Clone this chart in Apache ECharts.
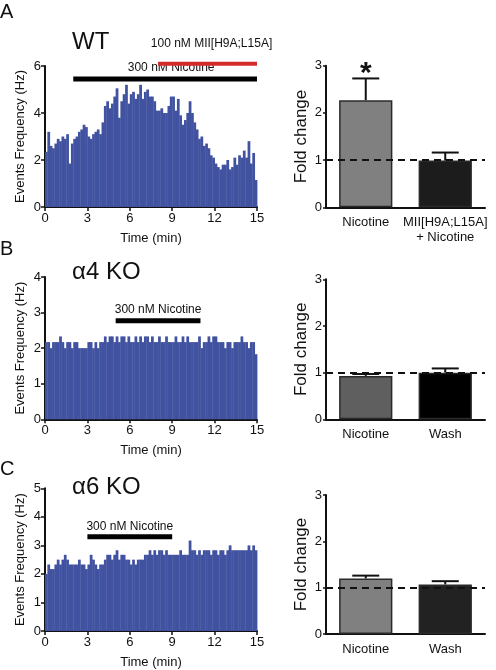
<!DOCTYPE html>
<html>
<head>
<meta charset="utf-8">
<script src="https://cdn.jsdelivr.net/npm/echarts@6/dist/echarts.min.js"></script>
<style>
html,body{margin:0;padding:0;background:#fff;}
#chart{width:496px;height:670px;}
</style>
</head>
<body>
<div id="chart"></div>
<script>
// ---------------- DATA ----------------
const binWidthMin = 1 / 6; // 10 s bins
const timeTicks = [0, 3, 6, 9, 12, 15];

const wtRate = [
  2.35, 3.2, 2.6, 2.5, 2.7, 2.9, 2.8, 3.0, 2.9, 3.1,
  1.85, 2.7, 2.9, 3.0, 3.2, 3.3, 3.5, 3.4, 3.0, 2.9,
  3.1, 3.2, 3.3, 3.1, 3.6, 4.3, 4.5, 4.2, 4.4, 4.7,
  5.05, 3.8, 4.5, 4.8, 5.2, 4.4, 4.8, 4.9, 4.6, 4.8,
  5.2, 4.6, 4.9, 5.0, 4.7, 4.7, 4.5, 4.1, 4.1, 4.2,
  4.0, 4.0, 4.3, 4.7, 4.7, 4.1, 4.6, 3.9, 3.5, 3.7,
  4.0, 4.5, 4.0, 3.6, 3.3, 2.9, 3.0, 2.6, 2.7, 2.5,
  2.2, 2.1, 1.85, 1.7, 1.6, 1.8, 1.8, 2.0, 1.6, 1.7,
  2.1, 1.8, 2.2, 2.1, 2.4, 2.1, 2.8, 1.85, 2.3, 1.15
];
const a4Rate = [
  2.17, 2.17, 2.0, 2.17, 2.17, 2.17, 2.33, 2.17, 2.0, 2.17,
  2.17, 2.0, 2.17, 2.17, 2.0, 2.0, 2.0, 2.0, 2.17, 2.17,
  2.0, 2.17, 2.0, 2.17, 2.17, 2.33, 2.17, 2.33, 2.33, 2.17,
  2.33, 2.17, 2.33, 2.33, 2.17, 2.33, 2.17, 2.17, 2.33, 2.17,
  2.33, 2.17, 2.33, 2.33, 2.17, 2.33, 2.17, 2.17, 2.33, 2.17,
  2.17, 2.33, 2.17, 2.17, 2.17, 2.33, 2.17, 2.17, 2.33, 2.17,
  2.33, 2.17, 2.17, 2.17, 2.17, 2.33, 2.0, 2.17, 2.17, 2.33,
  2.17, 2.33, 2.33, 2.17, 2.17, 2.17, 2.0, 2.17, 2.17, 2.0,
  2.17, 2.17, 2.17, 2.33, 2.17, 2.17, 2.0, 2.17, 2.17, 1.83
];
const a6Rate = [
  2.0, 2.33, 2.17, 2.17, 2.33, 2.5, 2.33, 2.5, 2.67, 2.5,
  2.33, 2.33, 2.33, 2.33, 2.5, 2.33, 2.33, 2.17, 2.33, 2.67,
  2.5, 2.33, 2.17, 2.33, 2.33, 2.5, 2.67, 2.67, 2.5, 2.67,
  2.83, 2.5, 2.67, 2.67, 2.5, 2.5, 2.33, 2.5, 2.33, 2.5,
  2.5, 2.5, 2.67, 2.67, 2.83, 2.67, 2.83, 2.67, 2.83, 2.83,
  2.67, 2.83, 2.67, 2.67, 2.67, 2.67, 2.67, 2.83, 2.67, 2.67,
  2.67, 3.17, 2.83, 2.83, 2.67, 2.83, 2.67, 2.83, 2.83, 2.83,
  2.67, 2.83, 2.83, 2.67, 2.83, 2.83, 2.67, 2.83, 3.0, 2.83,
  2.83, 2.83, 2.83, 2.83, 2.83, 2.83, 3.0, 2.83, 3.0, 2.83
];

// drug application bars: [label, startMin, endMin, level(Hz)]
const wtDrugs = [["300 nM Nicotine", 2, 15, 5.45], ["100 nM MII[H9A;L15A]", 8, 15, 6.1]];
const a4Drugs = [["300 nM Nicotine", 5, 11, 2.77]];
const a6Drugs = [["300 nM Nicotine", 3, 9, 3.3]];

// fold-change bar charts
const wtCats = ["Nicotine", "MII[H9A;L15A]\n+ Nicotine"];
const wtFold = [2.27, 0.99];
const wtSem = [0.46, 0.17];
const wtSig = ["*", ""];
const a4Cats = ["Nicotine", "Wash"];
const a4Fold = [0.93, 1.0];
const a4Sem = [0.04, 0.09];
const a6Cats = ["Nicotine", "Wash"];
const a6Fold = [1.2, 1.07];
const a6Sem = [0.06, 0.07];

// ---------------- STYLE / LAYOUT ----------------
const FONT = "Liberation Sans, Arial, sans-serif";
const HIST_COLOR = "#4152a0";
const chart = echarts.init(document.getElementById('chart'), null, {renderer: 'canvas'});

const grids = [
  {left: 45, top: 66, width: 212, height: 141},     // A hist
  {left: 326, top: 65.7, width: 159, height: 141.6}, // A bar
  {left: 45, top: 277, width: 212, height: 142.3},  // B hist
  {left: 326, top: 279.3, width: 159, height: 140}, // B bar
  {left: 45, top: 488.3, width: 212, height: 143},  // C hist
  {left: 326, top: 495, width: 159, height: 139}    // C bar
];

const axisLine = {show: true, lineStyle: {color: '#111', width: 2}};
const axisLabel = {color: '#111', fontSize: 13, fontFamily: FONT, margin: 4};

function histX(gi) {
  return {type: 'value', gridIndex: gi, min: 0, max: 15, interval: 3,
    axisLine: axisLine, axisTick: {show: true, length: 4, lineStyle: {color: '#111', width: 1.5}},
    axisLabel: Object.assign({}, axisLabel, {margin: 5}), splitLine: {show: false},
    name: 'Time (min)', nameLocation: 'middle', nameGap: 25,
    nameTextStyle: {color: '#111', fontSize: 13, fontFamily: FONT}};
}
function histY(gi, max, interval) {
  return {type: 'value', gridIndex: gi, min: 0, max: max, interval: interval,
    axisLine: axisLine, axisTick: {show: true, length: 4, lineStyle: {color: '#111', width: 1.5}},
    axisLabel: axisLabel, splitLine: {show: false},
    name: 'Events Frequency (Hz)', nameLocation: 'middle', nameGap: 18,
    nameTextStyle: {color: '#111', fontSize: 13, fontFamily: FONT}};
}
function barX(gi, cats) {
  return {type: 'category', gridIndex: gi, data: cats,
    axisLine: axisLine, axisTick: {show: false},
    axisLabel: {color: '#111', fontSize: 13, fontFamily: FONT, margin: 8, lineHeight: 15, interval: 0}};
}
function barY(gi) {
  return {type: 'value', gridIndex: gi, min: 0, max: 3, interval: 1,
    axisLine: axisLine, axisTick: {show: true, length: 3, lineStyle: {color: '#111', width: 1.5}},
    axisLabel: axisLabel, splitLine: {show: false},
    name: 'Fold change', nameLocation: 'middle', nameGap: 16,
    nameTextStyle: {color: '#111', fontSize: 17, fontFamily: FONT}};
}

function histSeries(gi, rates) {
  const data = rates.map((v, i) => [i * binWidthMin, (i + 1) * binWidthMin, v]);
  return {type: 'custom', xAxisIndex: gi, yAxisIndex: gi, data: data, silent: true,
    encode: {x: [0, 1], y: 2},
    renderItem: function (params, api) {
      const p0 = api.coord([api.value(0), api.value(2)]);
      const p1 = api.coord([api.value(1), 0]);
      return {type: 'rect', shape: {x: p0[0], y: p0[1], width: p1[0] - p0[0] + 0.4, height: p1[1] - p0[1]},
        style: {fill: HIST_COLOR}};
    }};
}

function drugSeries(gi, drugs, styles) {
  return {type: 'custom', xAxisIndex: gi, yAxisIndex: gi, data: drugs.map((d, i) => [d[1], d[2], d[3], i]),
    clip: false, silent: true, z: 5,
    renderItem: function (params, api) {
      const i = api.value(3);
      const st = styles[i];
      const p0 = api.coord([api.value(0), api.value(2)]);
      const p1 = api.coord([api.value(1), api.value(2)]);
      return {type: 'group', children: [
        {type: 'line', shape: {x1: p0[0], y1: p0[1], x2: p1[0], y2: p1[1]},
          style: {stroke: st.color, lineWidth: st.width}},
        {type: 'text', x: (p0[0] + p1[0]) / 2 + st.dx, y: p0[1] - st.dy,
          style: {text: drugs[i][0], fill: '#111', fontSize: 12, fontFamily: FONT, align: 'center', verticalAlign: 'middle'}}
      ]};
    }};
}

function barSeries(gi, vals, colors) {
  return {type: 'bar', xAxisIndex: gi, yAxisIndex: gi, barWidth: '67%', silent: true,
    data: vals.map((v, i) => ({value: v, itemStyle: {color: colors[i], borderColor: '#2a2a2a', borderWidth: 1.5}})),
    markLine: {silent: true, symbol: 'none', label: {show: false},
      lineStyle: {color: '#111', type: [7, 5], width: 2}, data: [{yAxis: 1}]}, z: 2};
}

function errSeries(gi, vals, sems, sig) {
  return {type: 'custom', xAxisIndex: gi, yAxisIndex: gi, silent: true, z: 4, clip: false,
    data: vals.map((v, i) => [i, v, v + sems[i]]),
    renderItem: function (params, api) {
      const p0 = api.coord([api.value(0), api.value(1)]);
      const p1 = api.coord([api.value(0), api.value(2)]);
      const children = [
        {type: 'line', shape: {x1: p0[0], y1: p0[1], x2: p1[0], y2: p1[1]}, style: {stroke: '#111', lineWidth: 2}},
        {type: 'line', shape: {x1: p1[0] - 13.5, y1: p1[1], x2: p1[0] + 13.5, y2: p1[1]}, style: {stroke: '#111', lineWidth: 2}}
      ];
      const s = sig ? sig[params.dataIndex] : '';
      if (s) {
        children.push({type: 'text', x: p1[0], y: p1[1] + 10,
          style: {text: s, fill: '#111', fontSize: 30, fontWeight: 'bold', fontFamily: FONT, align: 'center', verticalAlign: 'bottom'}});
      }
      return {type: 'group', children: children};
    }};
}

const wtStyles = [{color: '#000', width: 5, dx: 6, dy: 11}, {color: '#d42a2a', width: 4, dx: 4, dy: 20}];
const a4Styles = [{color: '#000', width: 5, dx: 0, dy: 11}];
const a6Styles = [{color: '#000', width: 5, dx: 0, dy: 10}];

function txt(text, left, top, size) {
  return {type: 'text', left: left, top: top,
    style: {text: text, fill: '#111', fontSize: size, fontFamily: FONT}};
}

const option = {
  animation: false,
  backgroundColor: '#fff',
  grid: grids,
  xAxis: [histX(0), barX(1, wtCats), histX(2), barX(3, a4Cats), histX(4), barX(5, a6Cats)],
  yAxis: [histY(0, 6, 2), barY(1), histY(2, 4, 1), barY(3), histY(4, 5, 1), barY(5)],
  series: [
    histSeries(0, wtRate), drugSeries(0, wtDrugs, wtStyles),
    barSeries(1, wtFold, ['#808080', '#1c1c1c']), errSeries(1, wtFold, wtSem, wtSig),
    histSeries(2, a4Rate), drugSeries(2, a4Drugs, a4Styles),
    barSeries(3, a4Fold, ['#5f5f5f', '#000000']), errSeries(3, a4Fold, a4Sem, null),
    histSeries(4, a6Rate), drugSeries(4, a6Drugs, a6Styles),
    barSeries(5, a6Fold, ['#808080', '#222222']), errSeries(5, a6Fold, a6Sem, null)
  ],
  graphic: [
    txt('A', 0, 2, 20),
    txt('B', 0, 239, 20),
    txt('C', 0, 459, 20),
    txt('WT', 72, 30, 24),
    txt('α4 KO', 72, 260, 24),
    txt('α6 KO', 72, 475, 24)
  ]
};
chart.setOption(option);
</script>
</body>
</html>
